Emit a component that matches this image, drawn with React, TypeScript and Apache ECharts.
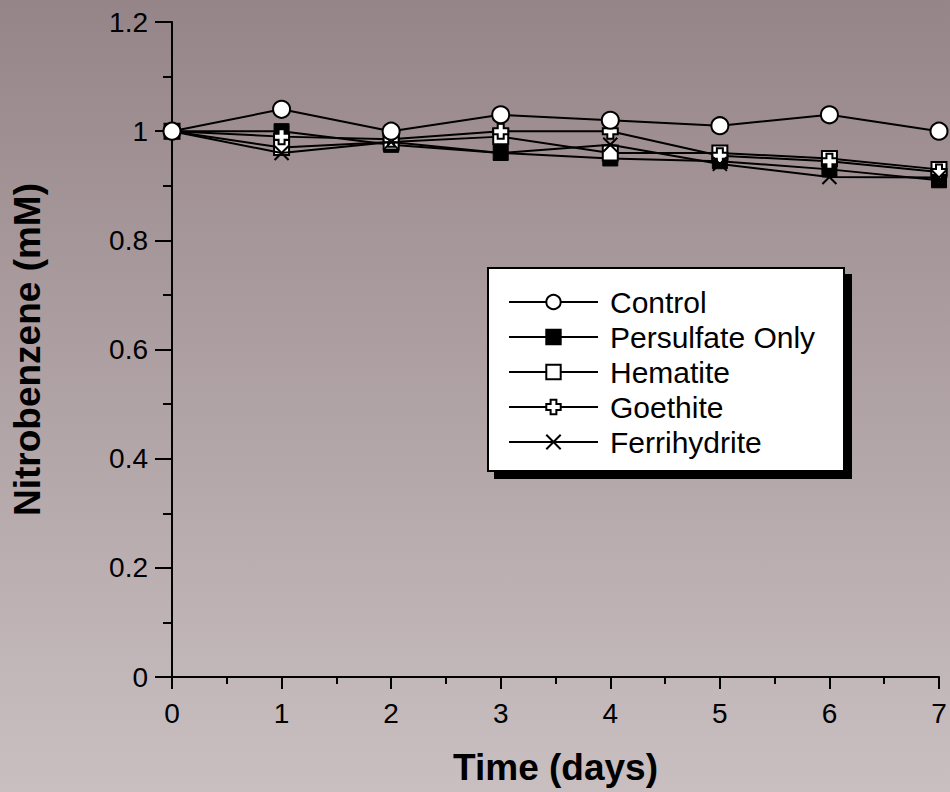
import React, { useEffect, useRef } from "react";
import * as echarts from "echarts";

const days = [0, 1, 2, 3, 4, 5, 6, 7];
const control = [1.0, 1.04, 1.0, 1.03, 1.02, 1.01, 1.03, 1.0];
const persulfate = [1.0, 1.0, 0.975, 0.96, 0.95, 0.945, 0.93, 0.91];
const hematite = [1.0, 0.97, 0.98, 0.99, 0.96, 0.96, 0.95, 0.93];
const goethite = [1.0, 0.99, 0.985, 1.0, 1.0, 0.955, 0.945, 0.925];
const ferrihydrite = [1.0, 0.96, 0.98, 0.96, 0.975, 0.94, 0.916, 0.915];
const seriesNames = ["Control", "Persulfate Only", "Hematite", "Goethite", "Ferrihydrite"];

const FONT = "'Liberation Sans', Arial, sans-serif";

export default function App() {
  const ref = useRef<HTMLDivElement>(null);
  useEffect(() => {
    if (!ref.current) return;
    const chart = echarts.init(ref.current, undefined, { renderer: "svg" });
    const pair = (arr: number[]) => days.map((d, i) => [d, arr[i]]);
    const line = { color: "#000", width: 2 };
    const option: any = {
      animation: false,
      backgroundColor: new echarts.graphic.LinearGradient(0, 0, 0, 1, [
        { offset: 0, color: "#968588" },
        { offset: 1, color: "#c9bfc1" },
      ]),
      grid: { left: 172, right: 11, top: 22, bottom: 115 },
      xAxis: {
        type: "value",
        min: 0,
        max: 7,
        interval: 1,
        name: "Time (days)",
        nameLocation: "middle",
        nameGap: 72,
        nameTextStyle: { fontFamily: FONT, fontWeight: "bold", fontSize: 37, color: "#000" },
        axisLine: { lineStyle: { color: "#000", width: 2 } },
        axisTick: { length: 12, lineStyle: { color: "#000", width: 2 } },
        minorTick: { show: true, splitNumber: 2, length: 7, lineStyle: { color: "#000", width: 2 } },
        axisLabel: { fontFamily: FONT, fontSize: 28, color: "#000", margin: 22 },
        splitLine: { show: false },
      },
      yAxis: {
        type: "value",
        min: 0,
        max: 1.2,
        interval: 0.2,
        name: "Nitrobenzene (mM)",
        nameLocation: "middle",
        nameGap: 126,
        nameTextStyle: { fontFamily: FONT, fontWeight: "bold", fontSize: 37, color: "#000" },
        axisLine: { lineStyle: { color: "#000", width: 2 } },
        axisTick: { length: 17, lineStyle: { color: "#000", width: 2 } },
        minorTick: { show: true, splitNumber: 2, length: 9, lineStyle: { color: "#000", width: 2 } },
        axisLabel: { fontFamily: FONT, fontSize: 28, color: "#000", margin: 24 },
        splitLine: { show: false },
      },
      graphic: [
        { type: "rect", z: 1, shape: { x: 494, y: 274, width: 358, height: 205 }, style: { fill: "#000" } },
        {
          type: "rect",
          z: 2,
          shape: { x: 488, y: 268, width: 356, height: 203 },
          style: { fill: "#fff", stroke: "#000", lineWidth: 2 },
        },
      ],
      legend: {
        z: 10,
        orient: "vertical",
        left: 508,
        top: 287,
        padding: 0,
        itemWidth: 89,
        itemHeight: 18,
        itemGap: 5,
        data: seriesNames,
        textStyle: { fontFamily: FONT, fontSize: 30, color: "#000", padding: [0, 0, 0, 7] },
      },
      series: [
        {
          name: "Control",
          type: "line",
          z: 6,
          data: pair(control),
          symbol: "circle",
          symbolSize: 17,
          lineStyle: line,
          itemStyle: { color: "#fff", borderColor: "#000", borderWidth: 2 },
        },
        {
          name: "Persulfate Only",
          type: "line",
          z: 2,
          data: pair(persulfate),
          symbol: "rect",
          symbolSize: 15,
          lineStyle: line,
          itemStyle: { color: "#000", borderColor: "#000", borderWidth: 1 },
        },
        {
          name: "Hematite",
          type: "line",
          z: 3,
          data: pair(hematite),
          symbol: "rect",
          symbolSize: 15,
          lineStyle: line,
          itemStyle: { color: "#fff", borderColor: "#000", borderWidth: 2 },
        },
        {
          name: "Goethite",
          type: "line",
          z: 4,
          data: pair(goethite),
          symbol: "path://M3,0 H7 V3 H10 V7 H7 V10 H3 V7 H0 V3 H3 Z",
          symbolSize: 15,
          lineStyle: line,
          itemStyle: { color: "#fff", borderColor: "#000", borderWidth: 2 },
        },
        {
          name: "Ferrihydrite",
          type: "line",
          z: 5,
          data: pair(ferrihydrite),
          symbol: "path://M0,0 L10,10 M10,0 L0,10",
          symbolSize: 14,
          lineStyle: line,
          itemStyle: { color: "transparent", borderColor: "#000", borderWidth: 2 },
        },
      ],
    };
    chart.setOption(option);
    return () => chart.dispose();
  }, []);
  return (
    <div
      ref={ref}
      style={{ position: "fixed", left: 0, top: 0, width: 950, height: 792 }}
    />
  );
}
